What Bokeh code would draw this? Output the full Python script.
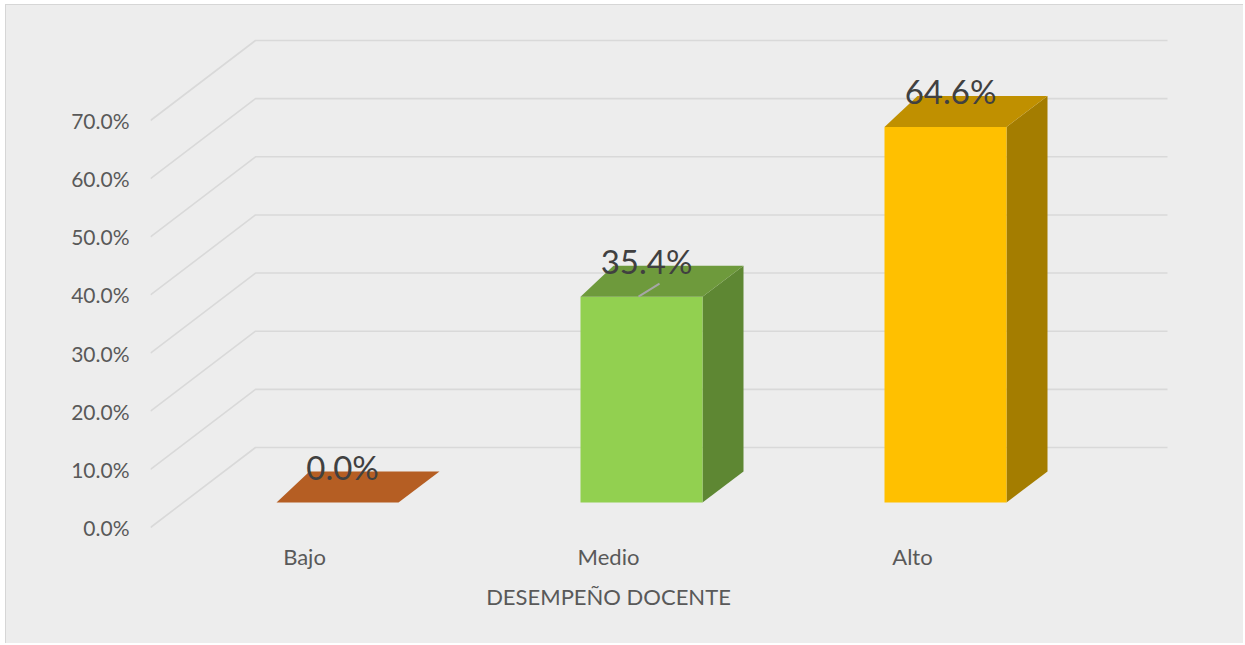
from bokeh.plotting import figure
from bokeh.models import Range1d, LinearAxis, FixedTicker, NumeralTickFormatter
from bokeh.core.properties import value
from bokeh.embed import file_html
from bokeh.resources import INLINE

# ---- data ----
categories = ["Bajo", "Medio", "Alto"]
percent = [0.0, 0.354, 0.646]
y_ticks = [0.0, 0.1, 0.2, 0.3, 0.4, 0.5, 0.6, 0.7]
x_title = "DESEMPEÑO DOCENTE"

# ---- styles ----
front_colors = ["#C55A11", "#92D050", "#FFC000"]
top_colors = ["#B55E23", "#6E9A3C", "#C09000"]
side_colors = ["#9A4F1D", "#5E8733", "#A47D00"]
leader = [False, True, False]
BG = "#EDEDED"
GRID = "#D9D9D9"
TXT = "#595959"
LBL = "#404040"
FONT = "Lato"

# ---- layout (reference pixels) ----
W, H = 1238, 639
OFF_X, OFF_Y = 6, 5
FR_L, FR_R, FR_T, FR_B = 150, 1230, 20, 535
Y0 = 527                      # front-plane zero line
SY = (527 - 120) / 0.7        # px per 1.0
X0 = 304                      # first category label
SX = 304.0                    # px per category

xr = Range1d((FR_L - X0) / SX, (FR_R - X0) / SX)
yr = Range1d((Y0 - FR_B) / SY, (Y0 - FR_T) / SY)

p = figure(width=W, height=H, x_range=xr, y_range=yr,
           x_axis_type=None, y_axis_type=None,
           toolbar_location=None, output_backend="svg",
           min_border_left=FR_L - OFF_X, min_border_right=W - (FR_R - OFF_X),
           min_border_top=FR_T - OFF_Y, min_border_bottom=H - (FR_B - OFF_Y))
p.background_fill_color = None
p.border_fill_color = None
p.outline_line_color = None
p.styles = {"margin-left": "5px", "margin-top": "4px",
            "background-color": BG,
            "border-left": "1px solid #D6D6D6", "border-top": "1px solid #D6D6D6"}

# ---- 3D gridlines (side wall diagonal + back wall) ----
DXG, DYG = 105 / SX, 80 / SY
x_grid_end = (1167 - X0) / SX
gx = [[xr.start, xr.start + DXG, x_grid_end] for v in y_ticks]
gy = [[v, v + DYG, v + DYG] for v in y_ticks]
p.multi_line(gx, gy, line_color=GRID, line_width=1.6)

# ---- 3D bars ----
BAR_OFF = 33 / SX
HW = 61 / SX
B = 25 / SY
DXL, DXR, DDY = 33 / SX, 41 / SX, 31 / SY

fx, fy, tx, ty, sx, sy = [], [], [], [], [], []
lx, ly, lt = [], [], []
ldx, ldy = [], []
for i, v in enumerate(percent):
    c = i + BAR_OFF
    a, b2 = c - HW, c + HW
    yt = B + v
    fx.append([a, b2, b2, a]); fy.append([B, B, yt, yt])
    tx.append([a, b2, b2 + DXR, a + DXL]); ty.append([yt, yt, yt + DDY, yt + DDY])
    sx.append([b2, b2 + DXR, b2 + DXR, b2]); sy.append([B, B + DDY, yt + DDY, yt])
    lx.append(c + 5 / SX); ly.append(yt + DDY + 5 / SY)
    lt.append(f"{v * 100:.1f}%")
    if leader[i]:
        ldx.append([c - 3 / SX, c + 18 / SX]); ldy.append([yt, yt + 13 / SY])

p.patches(sx, sy, fill_color=side_colors, line_color=None)
p.patches(fx, fy, fill_color=front_colors, line_color=None)
p.patches(tx, ty, fill_color=top_colors, line_color=None)
if ldx:
    p.multi_line(ldx, ldy, line_color="#A6A6A6", line_width=2)

p.text(lx, ly, text=lt, text_align="center", text_baseline="middle",
       text_font=value(FONT), text_font_size="33px", text_color=LBL)

# ---- axes ----
def style_axis(ax, size):
    ax.axis_line_color = None
    ax.major_tick_line_color = None
    ax.minor_tick_line_color = None
    ax.major_label_text_font = FONT
    ax.major_label_text_font_size = size
    ax.major_label_text_color = TXT

yaxis = LinearAxis(ticker=FixedTicker(ticks=y_ticks),
                   formatter=NumeralTickFormatter(format="0.0%"))
style_axis(yaxis, "21px")
yaxis.major_label_standoff = 15
p.add_layout(yaxis, "left")

xaxis = LinearAxis(ticker=FixedTicker(ticks=list(range(len(categories)))),
                   major_label_overrides={i: n for i, n in enumerate(categories)})
style_axis(xaxis, "22px")
xaxis.major_label_standoff = 1
p.add_layout(xaxis, "below")

# axis title, centred under the middle category
mid = (len(categories) - 1) // 2
title_axis = LinearAxis(ticker=FixedTicker(ticks=[mid]),
                        major_label_overrides={mid: x_title})
style_axis(title_axis, "22px")
title_axis.major_label_standoff = 4
p.add_layout(title_axis, "below")

open("out.html", "w").write(file_html(p, INLINE))
